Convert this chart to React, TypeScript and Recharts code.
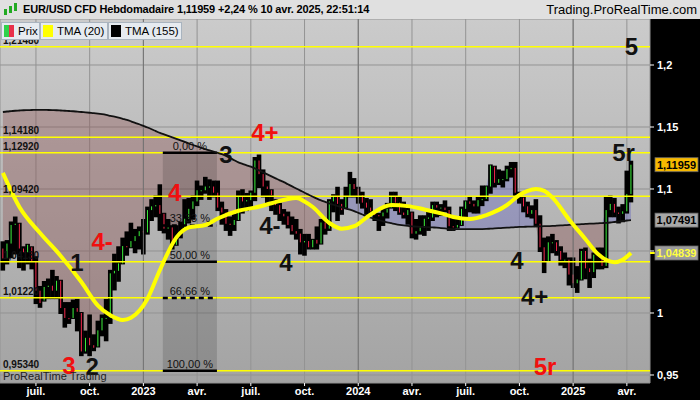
import React from 'react';
import {
  ComposedChart, Bar, Line, Area, XAxis, YAxis, CartesianGrid,
  ReferenceLine, ReferenceArea, ReferenceDot,
} from 'recharts';

const FONT = '"Liberation Sans", Arial, sans-serif';

// ---- data (weekly candles, week 0 = 9 May 2022) ----
const highs = [
  1.057, 1.058, 1.073, 1.077, 1.072, 1.053, 1.055, 1.053, 1.045, 1.021,
  1.025, 1.027, 1.034, 1.029, 1.026, 1.008, 1.008, 1.010, 1.0105, 1.000,
  0.985, 0.998, 0.982, 0.993, 0.998, 1.0105, 1.034, 1.047, 1.053, 1.060,
  1.065, 1.072, 1.067, 1.069, 1.075, 1.085, 1.091, 1.094, 1.103, 1.080,
  1.075, 1.070, 1.070, 1.073, 1.091, 1.092, 1.094, 1.106, 1.102, 1.109,
  1.107, 1.106, 1.106, 1.089, 1.083, 1.077, 1.079, 1.098, 1.099, 1.096,
  1.098, 1.125, 1.127, 1.115, 1.106, 1.099, 1.091, 1.088, 1.083, 1.081,
  1.077, 1.075, 1.067, 1.063, 1.063, 1.059, 1.069, 1.075, 1.075, 1.091,
  1.095, 1.101, 1.091, 1.101, 1.113, 1.108, 1.101, 1.097, 1.092, 1.091,
  1.081, 1.080, 1.084, 1.088, 1.097, 1.097, 1.093, 1.089, 1.084, 1.081,
  1.075, 1.078, 1.078, 1.083, 1.089, 1.089, 1.087, 1.090, 1.085, 1.077,
  1.077, 1.085, 1.090, 1.093, 1.090, 1.093, 1.102, 1.102, 1.119, 1.118,
  1.115, 1.114, 1.118, 1.121, 1.121, 1.097, 1.093, 1.089, 1.086, 1.091,
  1.078, 1.060, 1.061, 1.063, 1.058, 1.053, 1.048, 1.044, 1.044, 1.037,
  1.051, 1.052, 1.043, 1.048, 1.052, 1.052, 1.093, 1.094, 1.092, 1.085,
  1.087, 1.114, 1.122,
];
const lows = [
  1.035, 1.040, 1.045, 1.048, 1.037, 1.035, 1.040, 1.036, 1.008, 1.005,
  1.010, 1.012, 1.012, 1.012, 1.000, 0.989, 0.992, 0.996, 0.986, 0.966,
  0.968, 0.966, 0.970, 0.973, 0.982, 0.978, 0.992, 1.019, 1.026, 1.040,
  1.047, 1.053, 1.049, 1.052, 1.048, 1.064, 1.075, 1.078, 1.067, 1.065,
  1.060, 1.052, 1.055, 1.061, 1.068, 1.073, 1.076, 1.087, 1.092, 1.097,
  1.092, 1.094, 1.083, 1.072, 1.067, 1.063, 1.067, 1.075, 1.081, 1.083,
  1.084, 1.091, 1.1015, 1.094, 1.087, 1.083, 1.080, 1.075, 1.072, 1.069,
  1.064, 1.060, 1.048, 1.047, 1.052, 1.052, 1.052, 1.056, 1.064, 1.067,
  1.082, 1.075, 1.080, 1.085, 1.094, 1.094, 1.089, 1.085, 1.080, 1.080,
  1.075, 1.067, 1.071, 1.077, 1.085, 1.083, 1.080, 1.077, 1.072, 1.061,
  1.060, 1.064, 1.063, 1.067, 1.075, 1.078, 1.079, 1.082, 1.067, 1.067,
  1.069, 1.071, 1.078, 1.082, 1.081, 1.081, 1.087, 1.091, 1.097, 1.102,
  1.104, 1.102, 1.107, 1.110, 1.095, 1.089, 1.082, 1.078, 1.077, 1.070,
  1.050, 1.033, 1.042, 1.049, 1.047, 1.039, 1.037, 1.023, 1.021, 1.017,
  1.027, 1.028, 1.021, 1.029, 1.036, 1.036, 1.037, 1.078, 1.078, 1.073,
  1.074, 1.081, 1.090,
];
const closes = [
  1.044, 1.056, 1.071, 1.072, 1.052, 1.049, 1.055, 1.042, 1.018, 1.008,
  1.021, 1.022, 1.018, 1.026, 1.004, 0.996, 0.995, 1.004, 1.001, 0.969,
  0.980, 0.974, 0.972, 0.986, 0.996, 0.996, 1.032, 1.034, 1.040, 1.054,
  1.053, 1.058, 1.062, 1.066, 1.065, 1.083, 1.086, 1.087, 1.080, 1.068,
  1.069, 1.055, 1.063, 1.064, 1.076, 1.084, 1.090, 1.099, 1.099, 1.102,
  1.102, 1.097, 1.085, 1.081, 1.072, 1.071, 1.075, 1.094, 1.090, 1.091,
  1.097, 1.123, 1.112, 1.102, 1.100, 1.095, 1.087, 1.080, 1.078, 1.071,
  1.066, 1.064, 1.057, 1.058, 1.053, 1.059, 1.056, 1.073, 1.068, 1.090,
  1.094, 1.088, 1.083, 1.094, 1.104, 1.100, 1.095, 1.089, 1.085, 1.082,
  1.079, 1.078, 1.081, 1.084, 1.094, 1.089, 1.081, 1.079, 1.083, 1.064,
  1.066, 1.069, 1.076, 1.077, 1.087, 1.085, 1.085, 1.083, 1.070, 1.069,
  1.071, 1.084, 1.090, 1.088, 1.086, 1.091, 1.092, 1.102, 1.119, 1.105,
  1.108, 1.108, 1.116, 1.117, 1.097, 1.094, 1.086, 1.080, 1.083, 1.072,
  1.053, 1.042, 1.057, 1.057, 1.050, 1.043, 1.043, 1.031, 1.024, 1.027,
  1.050, 1.036, 1.033, 1.047, 1.046, 1.038, 1.083, 1.088, 1.081, 1.080,
  1.082, 1.096, 1.11959,
];
const firstOpen = 1.052;

// TMA (155), one value per week
const tma155 = [
  1.1621, 1.1625, 1.1628, 1.1631, 1.1633, 1.1635, 1.1636, 1.1637, 1.1638, 1.1638,
  1.1638, 1.1637, 1.1636, 1.1635, 1.1633, 1.1631, 1.1629, 1.1627, 1.1624, 1.1621,
  1.1618, 1.1615, 1.1612, 1.1608, 1.1603, 1.1597, 1.1590, 1.1583, 1.1575, 1.1566,
  1.1557, 1.1546, 1.1534, 1.1522, 1.1509, 1.1496, 1.1482, 1.1467, 1.1452, 1.1440,
  1.1428, 1.1416, 1.1404, 1.1392, 1.1380, 1.1367, 1.1355, 1.1343, 1.1331, 1.1321,
  1.1311, 1.1301, 1.1291, 1.1281, 1.1267, 1.1250, 1.1232, 1.1215, 1.1203, 1.1191,
  1.1180, 1.1165, 1.1150, 1.1134, 1.1118, 1.1102, 1.1086, 1.1070, 1.1055, 1.1038,
  1.1021, 1.1004, 1.0987, 1.0970, 1.0954, 1.0938, 1.0922, 1.0908, 1.0896, 1.0884,
  1.0873, 1.0862, 1.0852, 1.0842, 1.0833, 1.0822, 1.0808, 1.0794, 1.0780, 1.0768,
  1.0758, 1.0748, 1.0739, 1.0731, 1.0724, 1.0717, 1.0711, 1.0706, 1.0702, 1.0699,
  1.0697, 1.0695, 1.0694, 1.0692, 1.0690, 1.0688, 1.0685, 1.0682, 1.0679, 1.0677,
  1.0676, 1.0676, 1.0676, 1.0676, 1.0676, 1.0677, 1.0677, 1.0678, 1.0680, 1.0682,
  1.0684, 1.0686, 1.0688, 1.0690, 1.0692, 1.0694, 1.0695, 1.0696, 1.0697, 1.0698,
  1.0699, 1.0700, 1.0701, 1.0702, 1.0704, 1.0706, 1.0708, 1.0710, 1.0712, 1.0714,
  1.0716, 1.0718, 1.0720, 1.0721, 1.0723, 1.0725, 1.0727, 1.0730, 1.0734, 1.0738,
  1.0742, 1.0746, 1.07491,
];

// TMA (20), read at sampled weeks along the yellow curve
const tma20Weeks = [0, 4, 9, 14, 19, 23, 26, 29, 31, 35, 38, 42, 45, 49, 52, 57, 61, 65, 69, 71, 73, 75, 79, 82, 85, 89, 94, 98, 102, 106, 109, 113, 117, 122, 125, 127, 129, 131, 133, 137, 141, 144, 148, 150, 152];
const tma20Values = [1.1130, 1.0855, 1.0645, 1.0460, 1.0250, 1.0060, 0.9982, 0.9944, 0.9962, 1.0115, 1.0347, 1.0610, 1.0690, 1.0710, 1.0762, 1.0825, 1.0850, 1.0885, 1.0920, 1.0927, 1.0900, 1.0855, 1.0726, 1.0680, 1.0700, 1.0795, 1.0870, 1.0862, 1.0835, 1.0803, 1.0774, 1.0758, 1.0790, 1.0871, 1.0952, 1.0985, 1.1000, 1.0985, 1.0930, 1.0755, 1.0595, 1.0475, 1.0410, 1.0430, 1.04839];

const tickWeeks = [8, 21, 34, 47, 60, 73, 86, 99, 112, 125, 138, 151];
const tickLabels = ['juil.', 'oct.', '2023', 'avr.', 'juil.', 'oct.', '2024', 'avr.', 'juil.', 'oct.', '2025', 'avr.'];
const yearWeeks = [34, 86, 138];
const priceTicks = [0.95, 1, 1.05, 1.1, 1.15, 1.2];
const hiddenPriceTick = 1.05; // covered by the TMA(20) price tag

const levelValues = [1.2148, 1.1418, 1.1292, 1.0942, 1.0413, 1.0122, 0.9534];
const levelLabels = ['1,21480', '1,14180', '1,12920', '1,09420', '1,04130', '1,01220', '0,95340'];

const fibStartWeek = 38.7;
const fibEndWeek = 51.8;
const fibLevels = [1.1292, 1.0706, 1.0413, 1.0120, 0.9534];
const fibLabels = ['0,00 %', '33,33 %', '50,00 %', '66,66 %', '100,00 %'];
const fibDashed = [false, true, false, true, false];

const waveTexts = ['5', '5r', '4+', '3', '4', '4-', '1', '3', '2', '4-', '4', '4', '4+', '5r'];
const waveWeeks = [152.1, 150.2, 63.4, 54.0, 41.6, 24.0, 17.9, 16.0, 21.6, 64.6, 68.5, 124.4, 128.7, 131.2];
const wavePrices = [1.2149, 1.1298, 1.1452, 1.1282, 1.0968, 1.0580, 1.0411, 0.9580, 0.9570, 1.0702, 1.0411, 1.0420, 1.0137, 0.9565];
const waveRed = [false, false, true, false, true, true, false, true, false, false, false, false, false, true];

const lastPrice = 1.11959;
const lastTma155 = 1.07491;
const lastTma20 = 1.04839;

// ---- table built from the arrays ----
const rows = closes.map((c, i) => {
  const o = i === 0 ? firstOpen : closes[i - 1];
  const ma = tma155[i];
  const k = tma20Weeks.indexOf(i);
  return {
    w: i,
    h: highs[i],
    l: lows[i],
    o,
    c,
    ma,
    tma: k >= 0 ? tma20Values[k] : null,
    hl: [lows[i], highs[i]],
    below: c < ma ? [c, ma] : [ma, ma],
    above: c > ma ? [ma, c] : [ma, ma],
  };
});

const fmt = (v: number) => (v === hiddenPriceTick ? '' : String(v).replace('.', ','));

const Candle = (props: any) => {
  const { x, y, width, height, payload } = props;
  if (!payload || y == null || height == null) return null;
  const top = Math.min(y, y + height);
  const hh = Math.abs(height);
  const { h, l, c } = payload;
  const o = Math.min(h, Math.max(l, payload.o));
  const k = hh / (h - l || 1);
  const yo = top + (h - o) * k;
  const yc = top + (h - c) * k;
  const cx = x + width / 2;
  const b1 = Math.min(yo, yc);
  const b2 = Math.max(yo, yc);
  const col = c >= o ? '#3cf03c' : '#f4284c';
  return (
    <g>
      <rect x={cx - 2.3} y={top - 1} width={4.6} height={hh + 2} fill="#000" />
      <rect x={cx - 0.5} y={b1} width={1} height={Math.max(b2 - b1, 1)} fill={col} />
    </g>
  );
};

const makeTag = (text: string, bg: string, color: string, tick: string | null) => (props: any) => {
  const vb = props.viewBox || {};
  const xr = (vb.x || 0) + (vb.width || 0);
  const y = vb.y || 0;
  return (
    <g>
      {tick && <line x1={xr} x2={xr + 6} y1={y} y2={y} stroke={tick} strokeWidth={2} />}
      <rect x={xr + 5} y={y - 7} width={43} height={14} fill={bg} stroke="#666" strokeWidth={0.8} />
      <text x={xr + 26.5} y={y + 4} textAnchor="middle" fontFamily={FONT} fontSize={11} fontWeight="bold" fill={color}>{text}</text>
    </g>
  );
};

const legendBox: React.CSSProperties = {
  position: 'absolute', top: 22, height: 18, background: '#e6ebf0',
  border: '1px solid #a9b4bf', boxSizing: 'border-box', fontFamily: FONT,
  fontSize: 11.5, lineHeight: '16px', color: '#000', display: 'flex', alignItems: 'center',
  whiteSpace: 'nowrap', overflow: 'hidden',
};
const swatch = (bg: string): React.CSSProperties => ({ width: 10, height: 12, background: bg, marginLeft: 2, marginRight: 4, flex: 'none' });

export default function App() {
  return (
    <div style={{ position: 'absolute', left: 0, top: 0, width: 700, height: 400, background: '#000', overflow: 'hidden' }}>
      <div style={{ position: 'absolute', left: 0, top: 0, width: 700, height: 19, background: '#e0e0e0', fontFamily: FONT }}>
        <svg width={16} height={16} style={{ position: 'absolute', left: 3, top: 2 }}>
          <rect x={1} y={7} width={3} height={6} fill="#2a2" />
          <rect x={6} y={4} width={3} height={7} fill="#2a2" />
          <rect x={11} y={1} width={3} height={8} fill="#2a2" />
        </svg>
        <div style={{ position: 'absolute', left: 23, top: 0, lineHeight: '19px', fontSize: 11, fontWeight: 'bold', letterSpacing: -0.15, color: '#000', whiteSpace: 'nowrap' }}>
          EUR/USD CFD Hebdomadaire 1,11959 +2,24 % 10 avr. 2025, 22:51:14
        </div>
        <div style={{ position: 'absolute', right: 3, top: 0, lineHeight: '19px', fontSize: 13, color: '#000', whiteSpace: 'nowrap' }}>
          Trading.ProRealTime.com
        </div>
      </div>
      <div style={{ position: 'absolute', left: 0, top: 19 }}>
        <ComposedChart width={700} height={381} data={rows} margin={{ top: 0, right: 0, bottom: 0, left: 0 }}>
          <defs>
            <linearGradient id="bgGrad" x1="0" y1="0" x2="0" y2="1">
              <stop offset="0" stopColor="#cbcbcb" />
              <stop offset="1" stopColor="#a3a3a3" />
            </linearGradient>
          </defs>
          <CartesianGrid fill="url(#bgGrad)" fillOpacity={1} stroke="#939393" strokeWidth={1} />
          <XAxis
            type="number" dataKey="w" domain={[-0.7, 156.6]} allowDataOverflow
            ticks={tickWeeks} interval={0}
            tickFormatter={(v: number) => tickLabels[tickWeeks.indexOf(v)] ?? ''}
            height={17} tickSize={3} tickMargin={1} axisLine={false}
            tickLine={{ stroke: '#fff' }}
            tick={{ fill: '#fff', fontSize: 11, fontWeight: 'bold', fontFamily: FONT }}
          />
          <YAxis
            orientation="right" width={50} type="number" domain={[0.943548, 1.237097]} allowDataOverflow
            ticks={priceTicks} interval={0} tickFormatter={fmt}
            tickSize={4} tickMargin={3} axisLine={false}
            tickLine={{ stroke: '#fff' }}
            tick={{ fill: '#fff', fontSize: 11, fontWeight: 'bold', fontFamily: FONT }}
          />
          {yearWeeks.map((w) => (
            <ReferenceLine key={'yr' + w} x={w} stroke="#747474" strokeWidth={1} />
          ))}
          <Area dataKey="below" type="linear" stroke="none" fill="#8a4a4a" fillOpacity={0.34} isAnimationActive={false} />
          <Area dataKey="above" type="linear" stroke="none" fill="#6464c0" fillOpacity={0.38} isAnimationActive={false} />
          <ReferenceArea x1={fibStartWeek} x2={fibEndWeek} y1={fibLevels[4]} y2={fibLevels[0]} fill="#000" fillOpacity={0.14} stroke="none" />
          {levelValues.map((v, i) => (
            <ReferenceLine
              key={'lv' + i} y={v} stroke="#ffff00" strokeWidth={1.5}
              label={{ value: levelLabels[i], position: 'insideBottomLeft', offset: 3, fill: '#111', fontSize: 10, fontWeight: 'bold', fontFamily: FONT }}
            />
          ))}
          {fibLevels.map((v, i) => (
            <ReferenceLine
              key={'fb' + i}
              segment={[{ x: fibStartWeek, y: v }, { x: fibEndWeek, y: v }]}
              stroke="#000" strokeWidth={2.5} strokeDasharray={fibDashed[i] ? '5 4' : undefined}
            />
          ))}
          {fibLevels.map((v, i) => (
            <ReferenceDot
              key={'fl' + i} x={(fibStartWeek + fibEndWeek) / 2} y={v} r={0} fill="none" stroke="none"
              label={{ value: fibLabels[i], position: 'top', offset: 3, fill: '#111', fontSize: 11, fontFamily: FONT }}
            />
          ))}
          <Bar dataKey="hl" barSize={4} shape={Candle} isAnimationActive={false} />
          <Line dataKey="ma" type="monotone" stroke="#111" strokeWidth={1.8} dot={false} activeDot={false} isAnimationActive={false} />
          <Line dataKey="tma" type="monotone" connectNulls stroke="#ffff00" strokeWidth={4} dot={false} activeDot={false} isAnimationActive={false} />
          {waveTexts.map((t, i) => (
            <ReferenceDot
              key={'wv' + i} x={waveWeeks[i]} y={wavePrices[i]} r={0} fill="none" stroke="none"
              label={{ value: t, position: 'center', fill: waveRed[i] ? '#f01010' : '#111', fontSize: 24, fontWeight: 'bold', fontFamily: FONT }}
            />
          ))}
          <ReferenceLine y={lastTma20} stroke="none" label={{ content: makeTag('1,04839', '#9c9c9c', '#ffff40', '#ffff00') }} />
          <ReferenceLine y={lastTma155} stroke="none" label={{ content: makeTag('1,07491', '#a8a8a8', '#000', null) }} />
          <ReferenceLine y={lastPrice} stroke="none" label={{ content: makeTag('1,11959', '#f7b900', '#000', null) }} />
        </ComposedChart>
      </div>
      <div style={{ ...legendBox, left: 1, width: 39 }}>
        <div style={{ display: 'flex', marginLeft: 2, marginRight: 4, flex: 'none' }}>
          <div style={{ width: 5, height: 12, background: '#2fd24a' }} />
          <div style={{ width: 5, height: 12, background: '#e8304a' }} />
        </div>
        Prix
      </div>
      <div style={{ ...legendBox, left: 40, width: 68 }}>
        <div style={swatch('#ffff00')} />TMA (20)
      </div>
      <div style={{ ...legendBox, left: 108, width: 74 }}>
        <div style={swatch('#000')} />TMA (155)
      </div>
      <div style={{ position: 'absolute', left: 3, top: 370, fontFamily: FONT, fontSize: 11, color: '#222', whiteSpace: 'nowrap' }}>
        ProRealTime Trading
      </div>
    </div>
  );
}
